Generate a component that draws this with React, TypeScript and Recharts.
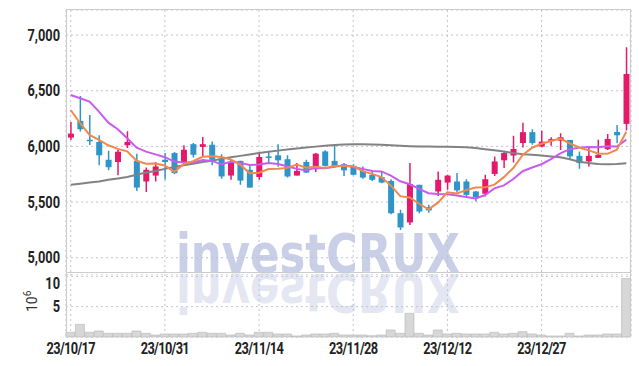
import React from 'react';
import { ComposedChart, Bar, Line, XAxis, YAxis, CartesianGrid } from 'recharts';

const dates = [
  '23/10/17', '23/10/18', '23/10/19', '23/10/20', '23/10/23', '23/10/24', '23/10/25', '23/10/26', '23/10/27', '23/10/30',
  '23/10/31', '23/11/01', '23/11/02', '23/11/03', '23/11/06', '23/11/07', '23/11/08', '23/11/09', '23/11/10', '23/11/13',
  '23/11/14', '23/11/15', '23/11/16', '23/11/17', '23/11/20', '23/11/21', '23/11/22', '23/11/23', '23/11/24', '23/11/27',
  '23/11/28', '23/11/29', '23/11/30', '23/12/01', '23/12/04', '23/12/05', '23/12/06', '23/12/07', '23/12/08', '23/12/11',
  '23/12/12', '23/12/13', '23/12/14', '23/12/15', '23/12/18', '23/12/19', '23/12/20', '23/12/21', '23/12/22', '23/12/26',
  '23/12/27', '23/12/28', '24/01/02', '24/01/03', '24/01/04', '24/01/05', '24/01/08', '24/01/09', '24/01/10', '24/01/11',
];

const opens = [
  6079, 6229, 6060, 6040, 5880, 5860, 6010, 5870, 5685, 5738,
  5880, 5940, 5860, 6020, 5995, 6015, 5893, 5738, 5870, 5790,
  5725, 5910, 5920, 5885, 5738, 5860, 5795, 5955, 5870, 5840,
  5825, 5780, 5745, 5725, 5690, 5400, 5317, 5655, 5455, 5595,
  5675, 5685, 5685, 5595, 5575, 5753, 5875, 5918, 6030, 6128,
  5998, 6050, 6052, 6058, 5915, 5865, 5897, 5975, 6130, 6202,
];
const highs = [
  6220, 6453, 6282, 6100, 5960, 5970, 6135, 5935, 5810, 5860,
  5940, 5950, 6010, 6030, 6085, 6045, 5930, 5880, 5870, 5835,
  5933, 5950, 6020, 5920, 5850, 5880, 5940, 5965, 6015, 5850,
  5840, 5820, 5770, 5770, 5705, 5430, 5850, 5655, 5475, 5775,
  5745, 5760, 5705, 5600, 5745, 5910, 5955, 6095, 6213, 6155,
  6140, 6083, 6118, 6058, 5955, 6000, 6060, 6112, 6193, 6890,
];
const lows = [
  6058, 6133, 6013, 5830, 5785, 5740, 5985, 5600, 5590, 5685,
  5700, 5750, 5835, 5900, 5910, 5830, 5710, 5700, 5655, 5630,
  5700, 5850, 5818, 5720, 5738, 5760, 5770, 5820, 5810, 5735,
  5740, 5710, 5690, 5670, 5390, 5250, 5295, 5400, 5405, 5555,
  5610, 5585, 5550, 5505, 5550, 5735, 5805, 5855, 5990, 6015,
  5993, 6005, 5968, 5885, 5800, 5820, 5895, 5968, 6028, 6142,
];
const closes = [
  6115, 6154, 6050, 5920, 5813, 5952, 6040, 5630, 5790, 5820,
  5860, 5760, 5970, 5925, 6020, 5880, 5730, 5858, 5693, 5630,
  5905, 5897, 5875, 5730, 5780, 5765, 5935, 5825, 5815, 5785,
  5745, 5720, 5700, 5675, 5400, 5272, 5663, 5415, 5425, 5700,
  5738, 5605, 5565, 5545, 5705, 5865, 5940, 5977, 6128, 6030,
  6043, 6065, 6082, 5910, 5850, 5915, 5925, 6067, 6100, 6650,
];

// moving averages (orange, purple, grey)
const ma5 = [
  6327, 6208, 6103, 6058, 6010, 5978, 5955, 5871, 5845, 5846,
  5828, 5772, 5840, 5867, 5907, 5911, 5905, 5883, 5836, 5758,
  5763, 5797, 5800, 5807, 5837, 5809, 5817, 5807, 5824, 5825,
  5821, 5778, 5753, 5725, 5648, 5553, 5542, 5485, 5435, 5495,
  5588, 5577, 5607, 5631, 5632, 5657, 5724, 5806, 5923, 5988,
  6024, 6049, 6070, 6026, 5990, 5964, 5936, 5933, 5971, 6131,
];
const ma10 = [
  6462, 6432, 6402, 6312, 6213, 6154, 6073, 5989, 5953, 5928,
  5903, 5864, 5856, 5856, 5877, 5870, 5839, 5861, 5852, 5833,
  5837, 5851, 5841, 5822, 5798, 5786, 5807, 5804, 5816, 5831,
  5815, 5798, 5780, 5775, 5737, 5687, 5660, 5619, 5580, 5572,
  5571, 5559, 5546, 5533, 5563, 5623, 5650, 5707, 5777, 5810,
  5840, 5886, 5938, 5975, 5989, 5994, 5993, 6002, 5999, 6061,
];
const ma60 = [
  5655, 5665, 5675, 5685, 5700, 5712, 5725, 5745, 5765, 5780,
  5798, 5815, 5830, 5845, 5860, 5872, 5888, 5902, 5915, 5928,
  5940, 5952, 5962, 5972, 5982, 5990, 5998, 6005, 6012, 6018,
  6020, 6020, 6018, 6014, 6010, 6006, 6002, 5999, 5998, 5997,
  5996, 5994, 5992, 5985, 5975, 5965, 5955, 5940, 5930, 5924,
  5918, 5910, 5902, 5885, 5862, 5850, 5842, 5840, 5842, 5848,
];

// volume in millions
const volumes = [
  0.78, 2.09, 0.78, 0.99, 0.61, 0.61, 0.61, 0.99, 0.61, 0.33,
  0.5, 0.5, 0.5, 0.61, 0.78, 0.61, 0.61, 0.33, 0.61, 0.33,
  0.78, 0.78, 0.5, 0.5, 0.17, 0.33, 0.5, 0.5, 0.61, 0.33,
  0.33, 0.33, 0.22, 0.33, 1.16, 0.61, 3.91, 0.61, 0.33, 1.16,
  0.5, 0.61, 0.5, 0.5, 0.5, 0.78, 0.5, 0.61, 0.88, 0.5,
  0.33, 0.17, 0.17, 0.61, 0.17, 0.33, 0.33, 0.5, 0.5, 9.64,
];

const tickDates = ['23/10/17', '23/10/31', '23/11/14', '23/11/28', '23/12/12', '23/12/27'];
const priceTicks = [5000, 5500, 6000, 6500, 7000];
const volumeTicks = [5, 10];

const RED = '#e5196a';
const BLUE = '#2f95c8';
const GRID = '#bfc3d6';

const rows = dates.map((date, i) => ({
  date,
  open: opens[i],
  high: highs[i],
  low: lows[i],
  close: closes[i],
  ma5: ma5[i],
  ma10: ma10[i],
  ma60: ma60[i],
  vol: volumes[i],
}));

const Candle = (props: any) => {
  const { x, y, width, height, payload } = props;
  if (!payload) return null;
  const { open, close, high, low } = payload;
  const k = height / (high - low || 1);
  const cx = x + width / 2;
  const yo = y + (high - open) * k;
  const yc = y + (high - close) * k;
  const color = close >= open ? RED : BLUE;
  const top = Math.min(yo, yc);
  const h = Math.max(1.5, Math.abs(yo - yc));
  return (
    <g>
      <line x1={cx} x2={cx} y1={y} y2={y + height} stroke={color} strokeWidth={1.5} />
      <rect x={cx - 3} y={top} width={6} height={h} fill={color} />
    </g>
  );
};

// condensed-looking tick text: Roboto bold squeezed horizontally
const NarrowTick = (props: any) => {
  const { x, y, payload, textAnchor, axis } = props;
  const v = payload.value;
  const label = typeof v === 'number' ? v.toLocaleString('en-US') : v;
  const isX = axis === 'x';
  return (
    <text
      transform={`translate(${x},${y}) scale(0.8,1)`}
      textAnchor={textAnchor}
      dy={isX ? '0.71em' : '0.355em'}
      fontFamily="Roboto, sans-serif"
      fontWeight={700}
      fontSize={16}
      letterSpacing={isX ? -0.8 : 0}
      fill="#222"
    >
      {label}
    </text>
  );
};

const App = () => {
  return (
    <div style={{ position: 'absolute', left: 0, top: 0, width: 639, height: 366, background: '#fff' }}>
      {/* watermark */}
      <svg width={639} height={366} style={{ position: 'absolute', left: 0, top: 0 }}>
        <text
          x={176}
          y={272}
          textLength={284}
          lengthAdjust="spacingAndGlyphs"
          fontFamily="DejaVu Sans, sans-serif"
          fontWeight={700}
          fontSize={54}
          fill="#c9cfe6"
        >
          investCRUX
        </text>
        <text
          x={176}
          y={272}
          transform="translate(0,546) scale(1,-1)"
          textLength={284}
          lengthAdjust="spacingAndGlyphs"
          fontFamily="DejaVu Sans, sans-serif"
          fontWeight={700}
          fontSize={54}
          fill="#e4e7f2"
        >
          investCRUX
        </text>
      </svg>

      <div style={{ position: 'absolute', left: 0, top: 0 }}>
        <ComposedChart width={639} height={273} data={rows} margin={{ top: 10, right: 8, left: 0, bottom: 0 }}>
          <CartesianGrid stroke={GRID} strokeDasharray="2 3" />
          <XAxis dataKey="date" hide ticks={tickDates} interval={0} />
          <YAxis
            width={66}
            domain={[4863, 7225]}
            ticks={priceTicks}
            allowDataOverflow
            tickLine={false}
            axisLine={false}
            tickSize={0}
            tickMargin={6}
            tick={<NarrowTick axis="y" />}
          />
          <Bar dataKey={(d: any) => [d.low, d.high]} shape={<Candle />} isAnimationActive={false} />
          <Line dataKey="ma60" stroke="#828282" strokeWidth={2} dot={false} type="linear" isAnimationActive={false} />
          <Line dataKey="ma10" stroke="#c95cef" strokeWidth={2} dot={false} type="linear" isAnimationActive={false} />
          <Line dataKey="ma5" stroke="#ef8a4c" strokeWidth={2} dot={false} type="linear" isAnimationActive={false} />
        </ComposedChart>
      </div>

      <div style={{ position: 'absolute', left: 0, top: 274 }}>
        <ComposedChart
          width={639}
          height={92}
          data={rows}
          margin={{ top: 0, right: 8, left: 0, bottom: 0 }}
          barCategoryGap={0}
          barGap={0}
        >
          <CartesianGrid stroke={GRID} strokeDasharray="2 3" />
          <XAxis
            dataKey="date"
            ticks={tickDates}
            interval={0}
            height={29}
            tickLine={false}
            axisLine={false}
            tickSize={6}
            tickMargin={0}
            tick={<NarrowTick axis="x" />}
          />
          <YAxis
            width={66}
            domain={[0, 10.38]}
            ticks={volumeTicks}
            tickLine={false}
            axisLine={false}
            tickSize={0}
            tickMargin={6}
            tick={<NarrowTick axis="y" />}
          />
          <Bar dataKey="vol" fill="#d7d7d7" stroke="#b5b5b5" strokeWidth={0.6} isAnimationActive={false} />
        </ComposedChart>
      </div>

      {/* frame and unit label */}
      <svg width={639} height={366} style={{ position: 'absolute', left: 0, top: 0, pointerEvents: 'none' }}>
        <g stroke="#cccccc" strokeWidth={1.2} fill="none">
          <line x1={66} x2={631} y1={9.5} y2={9.5} />
          <line x1={66.5} x2={66.5} y1={9.5} y2={337} />
          <line x1={630.5} x2={630.5} y1={9.5} y2={337} />
          <line x1={66} x2={631} y1={272.5} y2={272.5} />
        </g>
        <text
          transform="translate(37,312) rotate(-90)"
          fontFamily="Roboto, sans-serif"
          fontSize={14}
          fill="#333"
        >
          10<tspan dy={-6} fontSize={10}>6</tspan>
        </text>
      </svg>
    </div>
  );
};

export default App;
